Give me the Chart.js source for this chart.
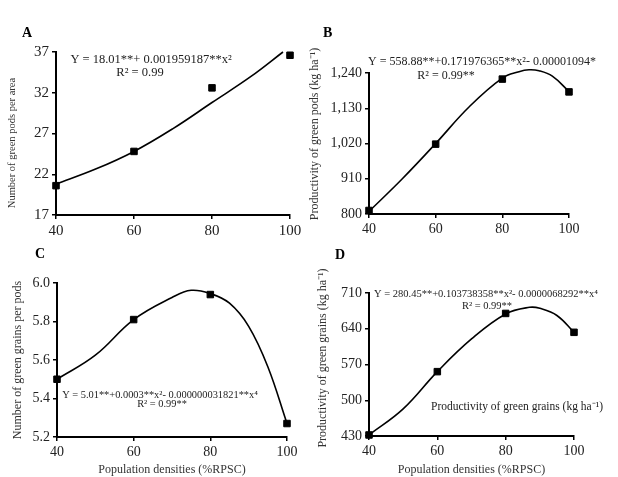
<!DOCTYPE html>
<html>
<head>
<meta charset="utf-8">
<script src="https://cdn.jsdelivr.net/npm/chart.js@4.4.1/dist/chart.umd.min.js"></script>
<style>
  body { margin: 0; background: #fff; }
  #wrap { position: relative; width: 618px; height: 477px; }
  canvas { position: absolute; }
</style>
</head>
<body>
<div id="wrap">
  <canvas id="chartA" width="305" height="240" style="left:0;top:0"></canvas>
  <canvas id="chartB" width="318" height="240" style="left:300px;top:0"></canvas>
  <canvas id="chartC" width="305" height="237" style="left:0;top:240px"></canvas>
  <canvas id="chartD" width="318" height="237" style="left:300px;top:240px"></canvas>
</div>
<script>
// population densities (%RPSC)
const densities = [40, 60, 80, 100];
const xTicks = [40, 60, 80, 100];

// A - number of green pods per area
const podsPerArea = [20.6, 24.8, 32.6, 36.6];
const fitXA = [40, 50, 60, 70, 80, 90, 98.2];
const fitA = [20.8, 22.6, 24.8, 27.6, 30.8, 34.0, 37.0];
const yTicksA = [17, 22, 27, 32, 37];

// B - productivity of green pods
const podYield = [811, 1018, 1221, 1181];
const fitXB = [40, 50, 60, 70, 80, 85, 88, 91, 95, 100];
const fitB = [808, 910, 1020, 1134, 1224, 1244, 1250, 1247, 1230, 1182];
const yTicksB = [800, 910, 1020, 1130, 1240];

// C - number of green grains per pod
const grainsPerPod = [5.50, 5.81, 5.94, 5.27];
const fitXC = [40, 50, 60, 70, 75, 80, 85, 90, 95, 100];
const fitC = [5.50, 5.625, 5.81, 5.925, 5.962, 5.945, 5.895, 5.775, 5.565, 5.27];
const yTicksC = [5.2, 5.4, 5.6, 5.8, 6.0];

// D - productivity of green grains
const grainYield = [432, 556, 670, 633];
const fitXD = [40, 50, 60, 70, 80, 87, 90, 95, 100];
const fitD = [432, 483, 556, 620, 669, 682, 680, 666, 633];
const yTicksD = [430, 500, 570, 640, 710];

const serif = "'Liberation Serif', 'Times New Roman', serif";
const xTitle = 'Population densities (%RPSC)';

// draws panel letters, equations and the y titles at fixed spots
const panelText = {
    id: 'panelText',
    afterDraw(chart, args, opts) {
        const ctx = chart.ctx;
        (opts.items || []).forEach(t => {
            ctx.save();
            ctx.font = (t.bold ? 'bold ' : '') + t.size + 'px ' + serif;
            ctx.fillStyle = t.color || '#222';
            ctx.textAlign = t.align || 'center';
            ctx.textBaseline = t.baseline || 'middle';
            ctx.translate(t.x, t.y);
            if (t.rotate) ctx.rotate(-Math.PI / 2);
            ctx.fillText(t.text, 0, 0);
            ctx.restore();
        });
    }
};

function makePanel(id, cfg) {
    new Chart(document.getElementById(id), {
        type: 'scatter',
        data: {
            datasets: [{
                data: densities.map((x, i) => ({ x: x, y: cfg.values[i] })),
                pointStyle: 'rect',
                pointRadius: 4.6,
                backgroundColor: '#000',
                borderColor: '#000',
                clip: false
            }, {
                data: cfg.fitX.map((x, i) => ({ x: x, y: cfg.fitY[i] })),
                showLine: true,
                borderColor: '#000',
                borderWidth: 1.6,
                pointRadius: 0,
                tension: 0.4,
                clip: false
            }]
        },
        options: {
            responsive: false,
            animation: false,
            events: [],
            layout: { padding: cfg.padding },
            plugins: {
                legend: { display: false },
                tooltip: { enabled: false },
                panelText: { items: cfg.texts }
            },
            scales: {
                x: {
                    type: 'linear',
                    min: 40,
                    max: 100,
                    afterBuildTicks: s => { s.ticks = xTicks.map(v => ({ value: v })); },
                    afterFit: s => { s.height = cfg.xHeight; },
                    ticks: { font: { family: serif, size: cfg.tickSize }, color: '#222', padding: 3, maxRotation: 0 },
                    grid: { drawOnChartArea: false, tickLength: 4, color: '#000', lineWidth: 1.5 },
                    border: { color: '#000', width: 2 },
                    title: {
                        display: cfg.showXTitle,
                        text: xTitle,
                        font: { family: serif, size: 12 },
                        color: '#333',
                        padding: { top: 0, bottom: 0 }
                    }
                },
                y: {
                    min: cfg.yTicks[0],
                    max: cfg.yTicks[cfg.yTicks.length - 1],
                    afterBuildTicks: s => { s.ticks = cfg.yTicks.map(v => ({ value: v })); },
                    afterFit: s => { s.width = cfg.yWidth; },
                    ticks: { font: { family: serif, size: cfg.tickSize }, color: '#222', padding: 3, callback: cfg.fmt },
                    grid: { drawOnChartArea: false, tickLength: 4, color: '#000', lineWidth: 1.5 },
                    border: { color: '#000', width: 2 }
                }
            }
        },
        plugins: [panelText]
    });
}

makePanel('chartA', {
    values: podsPerArea, fitX: fitXA, fitY: fitA, yTicks: yTicksA,
    fmt: v => v, tickSize: 15,
    padding: { top: 52, right: 15, left: 0, bottom: 0 }, yWidth: 56, xHeight: 25, showXTitle: false,
    texts: [
        { text: 'A', x: 22, y: 37, size: 14, bold: true, align: 'left', baseline: 'alphabetic', color: '#000' },
        { text: 'Y = 18.01**+ 0.001959187**x²', x: 151, y: 60, size: 12.5 },
        { text: 'R² = 0.99', x: 140, y: 73, size: 12.5 },
        { text: 'Number of green pods per area', x: 12, y: 143, size: 10.5, rotate: true, color: '#333' }
    ]
});

makePanel('chartB', {
    values: podYield, fitX: fitXB, fitY: fitB, yTicks: yTicksB,
    fmt: v => v.toLocaleString('en-US'), tickSize: 14,
    padding: { top: 73, right: 49, left: 0, bottom: 0 }, yWidth: 69, xHeight: 26, showXTitle: false,
    texts: [
        { text: 'B', x: 23, y: 37, size: 14, bold: true, align: 'left', baseline: 'alphabetic', color: '#000' },
        { text: 'Y = 558.88**+0.171976365**x²- 0.00001094*', x: 182, y: 62, size: 12 },
        { text: 'R² = 0.99**', x: 146, y: 76, size: 12 },
        { text: 'Productivity of green pods (kg ha⁻¹)', x: 15, y: 134, size: 12, rotate: true, color: '#333' }
    ]
});

makePanel('chartC', {
    values: grainsPerPod, fitX: fitXC, fitY: fitC, yTicks: yTicksC,
    fmt: v => v.toFixed(1), tickSize: 14,
    padding: { top: 43, right: 18, left: 0, bottom: 0 }, yWidth: 57, xHeight: 40, showXTitle: true,
    texts: [
        { text: 'C', x: 35, y: 18, size: 14, bold: true, align: 'left', baseline: 'alphabetic', color: '#000' },
        { text: 'Y = 5.01**+0.0003**x²- 0.000000031821**x⁴', x: 160, y: 155, size: 10.4 },
        { text: 'R² = 0.99**', x: 162, y: 164, size: 10.4 },
        { text: 'Number of green grains per pods', x: 18, y: 120, size: 12, rotate: true, color: '#333' }
    ]
});

makePanel('chartD', {
    values: grainYield, fitX: fitXD, fitY: fitD, yTicks: yTicksD,
    fmt: v => v, tickSize: 14,
    padding: { top: 53, right: 44, left: 0, bottom: 0 }, yWidth: 69, xHeight: 41, showXTitle: true,
    texts: [
        { text: 'D', x: 35, y: 19, size: 14, bold: true, align: 'left', baseline: 'alphabetic', color: '#000' },
        { text: 'Y = 280.45**+0.103738358**x²- 0.0000068292**x⁴', x: 186, y: 54, size: 10.5 },
        { text: 'R² = 0.99**', x: 187, y: 66, size: 10.5 },
        { text: 'Productivity of green grains (kg ha⁻¹)', x: 217, y: 167, size: 11.5 },
        { text: 'Productivity of green grains (kg ha⁻¹)', x: 23, y: 118, size: 12, rotate: true, color: '#333' }
    ]
});
</script>
</body>
</html>
